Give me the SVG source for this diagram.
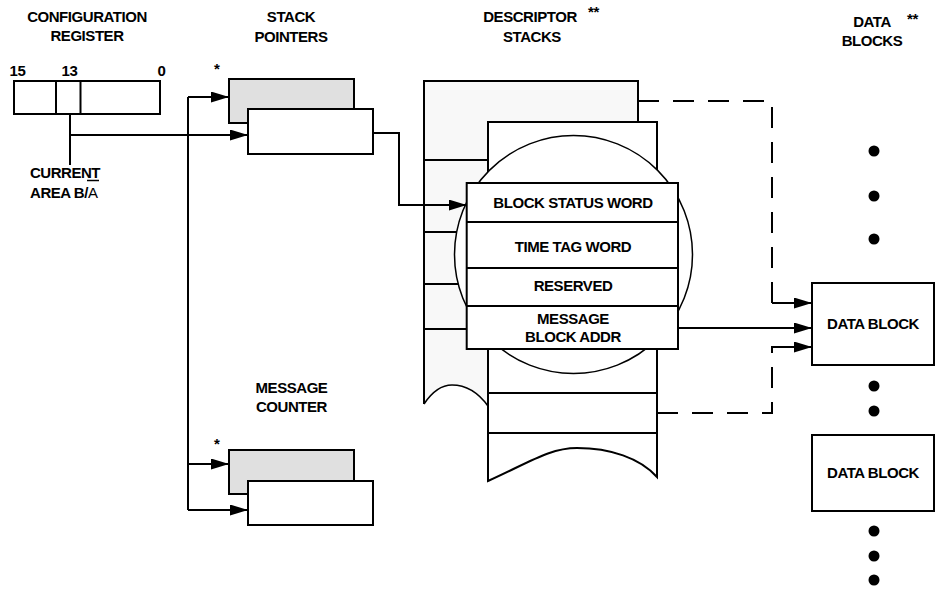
<svg xmlns="http://www.w3.org/2000/svg" width="935" height="589" viewBox="0 0 935 589">
<style>
text{font-family:"Liberation Sans",Arial,sans-serif;font-size:15px;font-weight:bold;fill:#000;letter-spacing:-0.45px}
.c{text-anchor:middle}
.box{fill:#fff;stroke:#000;stroke-width:2}
.gray{fill:#e0e0e0;stroke:#000;stroke-width:2}
.ln{fill:none;stroke:#000;stroke-width:2}
.thin{fill:none;stroke:#000;stroke-width:1.6}
.dash{fill:none;stroke:#000;stroke-width:2;stroke-dasharray:21 14}
.arr{marker-end:url(#ah)}
</style>
<defs>
<marker id="ah" markerUnits="userSpaceOnUse" markerWidth="19" markerHeight="11" refX="18" refY="5.5" orient="auto">
<path d="M0,0 L18,5.5 L0,11 Z" fill="#000"/>
</marker>
</defs>
<rect width="935" height="589" fill="#fff"/>

<g id="titles">
<text class="c" x="87" y="22">CONFIGURATION</text>
<text class="c" x="87" y="41">REGISTER</text>
<text class="c" x="291" y="22">STACK</text>
<text class="c" x="291" y="42">POINTERS</text>
<text class="c" x="530" y="22">DESCRIPTOR</text>
<text class="c" x="532" y="42">STACKS</text>
<text x="588" y="17">**</text>
<text class="c" x="872" y="27">DATA</text>
<text class="c" x="872" y="46">BLOCKS</text>
<text x="907" y="24">**</text>
<text class="c" x="291.5" y="393">MESSAGE</text>
<text class="c" x="291.5" y="412">COUNTER</text>
</g>

<g id="config-register">
<rect class="box" x="14" y="81" width="146" height="33"/>
<line class="ln" x1="56" y1="81" x2="56" y2="114"/>
<line class="ln" x1="80.5" y1="81" x2="80.5" y2="114"/>
<text class="c" x="17.5" y="76">15</text>
<text class="c" x="69.5" y="76">13</text>
<text class="c" x="161.5" y="76">0</text>
<text class="c" x="65" y="178">CURRENT</text>
<text x="30" y="198">AREA B/<tspan font-weight="normal">A</tspan></text>
<line x1="87" y1="180.5" x2="99" y2="180.5" stroke="#000" stroke-width="1.5"/>
</g>

<g id="stack-pointers">
<rect class="gray" x="229" y="79" width="125" height="44"/>
<rect class="box" x="248" y="109" width="125" height="45"/>
<text x="214" y="74">*</text>
</g>

<g id="message-counter">
<rect class="gray" x="229" y="450" width="125" height="44"/>
<rect class="box" x="248" y="481" width="125" height="44"/>
<text x="214" y="449">*</text>
</g>

<g id="descriptor-stacks">
<path d="M424,404 V81 H638 V406 H488 C480,395 468,385 452,385 C442,385 432,392 424,404 Z" fill="#f8f8f8" stroke="none"/>
<path class="ln" d="M424,404 V81 H638 V130"/>
<path class="thin" d="M424,404 C432,392 442,385 452,385 C468,385 480,395 488,406"/>
<line class="ln" x1="424" y1="160" x2="488" y2="160"/>
<line class="ln" x1="424" y1="232" x2="488" y2="232"/>
<line class="ln" x1="424" y1="284" x2="488" y2="284"/>
<line class="ln" x1="424" y1="329" x2="488" y2="329"/>
<path d="M488,122 L657,122 L657,477 C640,458 610,448 577,448 C550,448 530,462 488,481 Z" fill="#fff" stroke="#000" stroke-width="2" stroke-linejoin="miter"/>
<line class="ln" x1="488" y1="393" x2="657" y2="393"/>
<line class="ln" x1="488" y1="433" x2="657" y2="433"/>
<circle cx="573.5" cy="254.5" r="119" fill="#fff" stroke="#000" stroke-width="1.5"/>
</g>

<g id="descriptor-block">
<rect class="box" x="466.7" y="183" width="211.3" height="166"/>
<line class="ln" x1="466.7" y1="222" x2="679" y2="222"/>
<line class="ln" x1="466.7" y1="268" x2="679" y2="268"/>
<line class="ln" x1="466.7" y1="306" x2="679" y2="306"/>
<text class="c" x="573" y="208">BLOCK STATUS WORD</text>
<text class="c" x="573" y="252">TIME TAG WORD</text>
<text class="c" x="573" y="291">RESERVED</text>
<text class="c" x="573" y="324">MESSAGE</text>
<text class="c" x="573" y="342">BLOCK ADDR</text>
</g>

<g id="data-block-1">
<rect class="box" x="812" y="283" width="122" height="82"/>
<text class="c" x="873" y="329">DATA BLOCK</text>
</g>
<g id="data-block-2">
<rect class="box" x="812" y="435" width="122" height="76"/>
<text class="c" x="873" y="478">DATA BLOCK</text>
</g>

<g id="ellipsis" fill="#000">
<circle cx="874" cy="151" r="5.5"/>
<circle cx="874" cy="196" r="5.5"/>
<circle cx="874" cy="239" r="5.5"/>
<circle cx="874" cy="386" r="5.5"/>
<circle cx="874" cy="411" r="5.5"/>
<circle cx="874" cy="531" r="5.5"/>
<circle cx="874" cy="556" r="5.5"/>
<circle cx="874" cy="580" r="5.5"/>
</g>

<g id="connectors">
<line class="ln" x1="70" y1="114" x2="70" y2="165"/>
<polyline class="ln arr" points="70,135 248,135"/>
<polyline class="ln" points="188,97 188,510"/>
<polyline class="ln arr" points="188,97 229,97"/>
<polyline class="ln arr" points="188,464 229,464"/>
<polyline class="ln arr" points="188,510 248,510"/>
<polyline class="ln arr" points="373,133 399,133 399,205 466.7,205"/>
<polyline class="ln arr" points="678,328 812,328"/>
<polyline class="dash" points="638,101 772,101 772,303 790,303"/>
<polyline class="ln arr" points="772,303 812,303"/>
<polyline class="dash" points="657,413 772,413 772,347 790,347"/>
<polyline class="ln arr" points="772,347 812,347"/>
</g>
</svg>
